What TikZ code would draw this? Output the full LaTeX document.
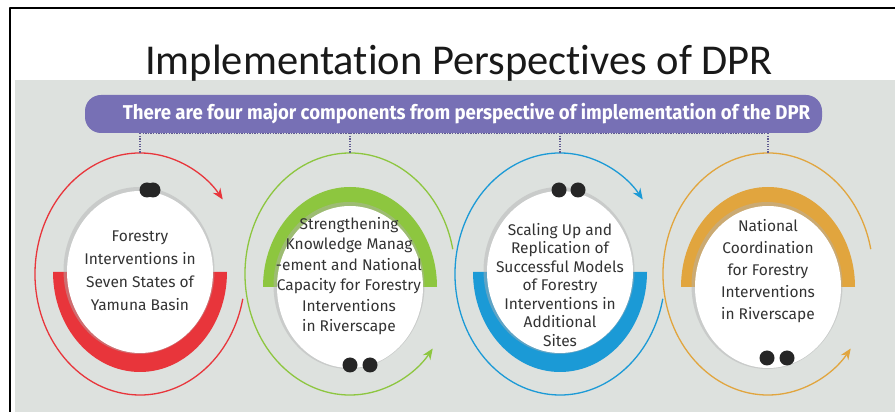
\documentclass[tikz,border=0pt]{standalone}
\usepackage{fontspec}
\setmainfont{Fira Sans}
\newfontfamily\titlefont[Ligatures=NoCommon]{Carlito}
\newfontfamily\bannerfont[FakeStretch=0.93]{Fira Sans}
\usetikzlibrary{arrows.meta}
\definecolor{bggray}{HTML}{DDE1DE}
\definecolor{bannerc}{HTML}{7770B5}
\definecolor{cred}{HTML}{E8353B}
\definecolor{cgreen}{HTML}{8DC63F}
\definecolor{cblue}{HTML}{1B9AD6}
\definecolor{corange}{HTML}{E1A53E}
\definecolor{txt}{HTML}{333333}
\tikzset{
  ring/.style={draw=#1, line width=1.3pt, -{Stealth[length=11pt,width=9pt]}},
  blob/.style={fill=black!85},
  textin/.style={text=txt, align=center, font=\fontsize{15.5}{#1}\selectfont},
  link/.style={draw=bannerc!80!black, line cap=butt, dash pattern=on 1.3pt off 1.3pt, line width=1.3pt},
  banner/.style={fill=bannerc, rounded corners=16pt, minimum width=737pt,
    minimum height=38pt, text=white, font=\bannerfont\bfseries\fontsize{20}{22}\selectfont},
}
\begin{document}
\begin{tikzpicture}[x=1pt,y=1pt,line join=round,line cap=round]
\useasboundingbox (0,0) rectangle (895,412);
% frame and background
\fill[white] (0,0) rectangle (895,412);
\fill[bggray] (15,0) rectangle (895,332);
\draw[line width=2pt] (10,0) -- (10,404) -- (895,404);
\node[anchor=base, font=\titlefont\fontsize{42.5}{45}\selectfont, text=black!90] (title) at (459,337)
  {Implementation Perspectives of DPR};
\node[banner] (banner) at (453.5,298)
  {\hspace*{26pt}There are four major components from perspective of implementation of the DPR};
% four circles: name/centre x/centre y/colour/band side (-1 below, 1 above)
\foreach \n/\cx/\cy/\col/\half in {1/140/140/cred/-1, 2/350/125/cgreen/1,
                                   3/560/140/cblue/-1, 4/768/125/corange/1}{
  \coordinate (c\n) at (\cx,\cy);
  \coordinate (top\n) at (\cx,259);
  \draw[ring=\col] (\cx,138) ++(12*\half:105 and 121)
    arc[start angle=12*\half, end angle=322*\half, x radius=105, y radius=121];
  \fill[\col] (\cx-87,\cy) arc[start angle=180, end angle=180-180*\half,
    x radius=87, y radius=100] -- cycle;
  \fill[black!30, opacity=.45] (\cx-1,\cy+1.5) ellipse (75.5 and 83.5);
  \fill[white] (c\n) ellipse (73 and 81);
  \draw[link] (top\n |- banner.south) -- (top\n);
}
\draw[link] (top1 |- banner.south) -- (top4 |- banner.south);
% dots
\foreach \x/\y in {147/222, 153/222, 350/47, 370/47, 559/222, 578/222, 767/54, 787/54}
  \fill[blob] (\x,\y) circle (7.5);
% texts
\node[textin=23] (t1) at (140,141) {Forestry\\Interventions in\\Seven States of\\Yamuna Basin};
\node[textin=20.5] (t2) at (349,136) {Strengthening\\Knowledge Manag\\{-}ement and National\\Capacity for Forestry\\Interventions\\in Riverscape};
\node[textin=18.5] (t3) at (560,127) {Scaling Up and\\Replication of\\Successful Models\\of Forestry\\Interventions in\\Additional\\Sites};
\node[textin=22] (t4) at (768,141) {National\\Coordination\\for Forestry\\Interventions\\in Riverscape};
\end{tikzpicture}
\end{document}
